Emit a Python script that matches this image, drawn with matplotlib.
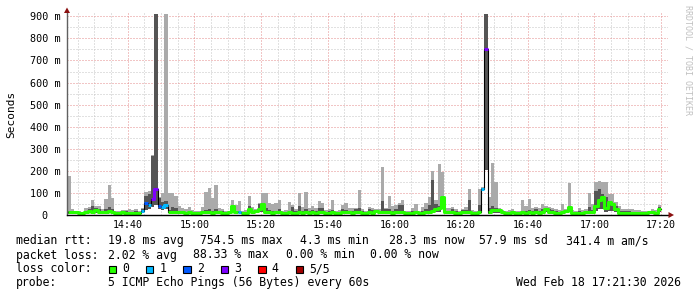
import numpy as np
import matplotlib
matplotlib.use("Agg")
import matplotlib.pyplot as plt
from matplotlib.patches import Rectangle, Polygon

# one sample per minute, first sample starts 14:22 (x = minutes after 14:00)
t0 = 22
# top of the light smoke (slowest ping), ms
hi = [176, 25, 20, 18, 15, 30, 35, 68, 40, 40,
      28, 72, 138, 78, 20, 18, 22, 22, 25, 22,
      25, 18, 30, 105, 110, 270, 910, 80, 100, 910,
      100, 98, 85, 40, 30, 25, 35, 22, 20, 20,
      35, 105, 123, 75, 136, 30, 25, 18, 20, 68,
      47, 62, 20, 22, 84, 35, 25, 55, 100, 100,
      53, 50, 53, 68, 18, 22, 60, 45, 25, 98,
      35, 105, 30, 40, 30, 65, 55, 22, 25, 68,
      20, 22, 45, 55, 33, 30, 30, 113, 25, 20,
      35, 30, 28, 25, 216, 30, 84, 40, 45, 55,
      70, 18, 20, 30, 50, 20, 35, 55, 80, 200,
      70, 233, 196, 30, 30, 35, 25, 20, 28, 35,
      120, 22, 20, 118, 125, 910, 80, 237, 148, 30,
      22, 20, 22, 25, 18, 20, 70, 40, 72, 30,
      35, 30, 50, 42, 35, 30, 25, 22, 50, 28,
      146, 22, 20, 30, 22, 25, 98, 50, 150, 155,
      148, 148, 95, 95, 60, 40, 25, 28, 28, 25,
      22, 22, 20, 18, 20, 25, 22, 45]
# top of the dark (inner) smoke, ms
dk = [20, 18, 14, 14, 12, 20, 25, 40, 30, 25,
      18, 28, 35, 25, 15, 14, 20, 20, 15, 15,
      18, 12, 25, 86, 95, 267, 910, 75, 60, 65,
      22, 35, 30, 20, 18, 15, 18, 15, 14, 14,
      20, 22, 25, 20, 25, 20, 18, 14, 15, 40,
      20, 20, 14, 15, 43, 18, 22, 51, 45, 30,
      22, 18, 20, 25, 14, 15, 18, 35, 18, 40,
      18, 25, 20, 22, 18, 33, 33, 15, 18, 22,
      14, 15, 25, 22, 20, 20, 28, 30, 18, 15,
      25, 22, 20, 18, 65, 25, 25, 20, 25, 45,
      45, 14, 15, 18, 18, 14, 20, 28, 45, 158,
      50, 40, 30, 18, 20, 25, 18, 14, 22, 22,
      68, 15, 14, 45, 122, 910, 30, 40, 30, 22,
      15, 14, 15, 18, 14, 14, 20, 20, 22, 18,
      25, 20, 25, 22, 25, 22, 18, 15, 20, 18,
      40, 15, 14, 18, 15, 18, 35, 22, 110, 120,
      95, 80, 60, 55, 40, 20, 18, 20, 20, 15,
      15, 14, 14, 14, 15, 18, 15, 35]
# bottom of the smoke (fastest ping), ms
lo = [6, 8, 7, 6, 6, 8, 10, 7, 10, 8,
      7, 8, 10, 7, 6, 5, 6, 6, 6, 5,
      6, 5, 12, 22, 25, 35, 45, 25, 22, 25,
      7, 8, 8, 7, 7, 6, 7, 6, 5, 6,
      7, 8, 7, 6, 8, 7, 6, 6, 7, 15,
      7, 8, 6, 6, 12, 8, 10, 12, 15, 8,
      7, 6, 7, 8, 6, 6, 7, 6, 6, 8,
      6, 7, 6, 7, 6, 8, 7, 6, 6, 7,
      6, 6, 7, 8, 7, 6, 7, 8, 6, 6,
      7, 6, 10, 7, 8, 7, 7, 6, 7, 8,
      8, 6, 6, 6, 7, 6, 6, 7, 8, 10,
      12, 15, 25, 7, 7, 8, 6, 6, 7, 7,
      8, 6, 6, 7, 112, 203, 6, 10, 10, 10,
      7, 6, 6, 7, 6, 6, 7, 6, 7, 6,
      7, 6, 7, 12, 7, 7, 6, 6, 7, 10,
      15, 6, 6, 6, 6, 7, 8, 7, 20, 25,
      25, 15, 20, 20, 12, 6, 6, 6, 6, 6,
      6, 6, 6, 6, 7, 7, 6, 12]
# median rtt, ms
med = [12, 15, 12, 10, 10, 14, 18, 12, 22, 15,
       12, 14, 20, 12, 10, 9, 12, 10, 10, 9,
       10, 8, 18, 56, 45, 71, 117, 40, 36, 45,
       12, 14, 15, 12, 12, 10, 12, 10, 9, 10,
       12, 14, 12, 10, 14, 12, 10, 10, 12, 40,
       12, 15, 10, 10, 25, 14, 16, 25, 50, 14,
       12, 11, 12, 14, 10, 11, 12, 10, 11, 14,
       10, 12, 11, 12, 11, 14, 12, 10, 11, 12,
       10, 10, 12, 14, 12, 11, 12, 14, 11, 10,
       12, 11, 18, 12, 14, 12, 12, 11, 12, 14,
       14, 10, 10, 11, 12, 10, 11, 12, 14, 20,
       25, 30, 83, 12, 12, 14, 11, 10, 12, 12,
       14, 10, 10, 12, 119, 750, 12, 22, 22, 22,
       12, 10, 10, 12, 10, 10, 12, 11, 12, 11,
       12, 11, 12, 28, 12, 12, 11, 10, 12, 20,
       38, 10, 10, 11, 10, 12, 14, 12, 40, 68,
       83, 30, 57, 52, 28, 10, 10, 11, 11, 10,
       10, 10, 10, 10, 12, 12, 10, 28]
# lost pings (of 5) per sample
loss = [0] * len(med)
for i, k in [(22, 1), (23, 2), (24, 1), (25, 3), (26, 3), (27, 2),
             (28, 1), (29, 1), (51, 1), (124, 1), (125, 3)]:
    loss[i] = k

loss_labels = ["0", "1", "2", "3", "4", "5/5"]
loss_colors = ["#26ff00", "#00b8ff", "#0059ff", "#7e00ff", "#ff0000", "#a10000"]
tick_pos = [40, 60, 80, 100, 120, 140, 160, 180, 200]
tick_labels = ["14:40", "15:00", "15:20", "15:40", "16:00", "16:20",
               "16:40", "17:00", "17:20"]

W, H = 697, 297
mono = "DejaVu Sans Mono"

fig = plt.figure(figsize=(W / 100, H / 100), dpi=100, facecolor="white")
ax = fig.add_axes([67 / W, 1 - 215 / H, (668 - 67) / W, (215 - 13) / H])
ax.set_xlim(21.8, 202.1)
ax.set_ylim(0, 915)

edges = t0 + np.arange(len(med) + 1)
med_a = np.array(med, float)
loss_a = np.array(loss)

# smoke
ax.stairs(hi, edges, baseline=lo, fill=True, color="#aaaaaa", lw=0, zorder=1)
ax.stairs(dk, edges, baseline=lo, fill=True, color="#555555", lw=0, zorder=1.1)

# median line
ax.plot(edges, np.append(med_a, med_a[-1]), drawstyle="steps-post",
        color="black", lw=0.8, zorder=2)
for k, c in enumerate(loss_colors):
    y = np.where(loss_a == k, med_a, np.nan)
    if np.all(np.isnan(y)):
        continue
    ax.plot(edges, np.append(y, y[-1]), drawstyle="steps-post", color=c,
            lw=2.2, solid_capstyle="butt", zorder=3)

# grid
ax.set_yticks(np.arange(0, 901, 100))
ax.set_yticks(np.arange(50, 900, 100), minor=True)
ax.set_yticklabels(["0  "] + ["%d m" % v for v in range(100, 901, 100)],
                   fontfamily=mono, fontsize=7.3)
ax.set_xticks(tick_pos)
ax.set_xticks(np.arange(25, 201, 5), minor=True)
ax.set_xticklabels(tick_labels, fontfamily=mono, fontsize=7.2)
ax.tick_params(which="both", length=0)
ax.tick_params(axis="y", pad=4.8)
ax.tick_params(axis="x", pad=3.5)
ax.grid(which="major", color="#e58c8c", lw=0.72, ls=(0, (1, 2)), zorder=0)
ax.grid(which="minor", color="#c4c4c4", lw=0.72, ls=(0, (1, 2)), zorder=0)
ax.set_axisbelow(True)

for s in ["top", "right"]:
    ax.spines[s].set_visible(False)
ax.spines["left"].set_color("#606060")
ax.spines["left"].set_linewidth(1.0)
ax.spines["bottom"].set_color("black")
ax.spines["bottom"].set_linewidth(1.0)
ax.spines["left"].set_zorder(5)
ax.spines["bottom"].set_zorder(5)


def px(x, y):
    return (x / W, 1 - y / H)


# axis arrows
fig.add_artist(Polygon([px(64, 13), px(70, 13), px(67, 7.5)], closed=True,
                       transform=fig.transFigure, color="#8b1010", lw=0))
fig.add_artist(Polygon([px(668.5, 212), px(668.5, 218), px(674, 215)], closed=True,
                       transform=fig.transFigure, color="#8b1010", lw=0))

fig.text(*px(11, 114), "Seconds", rotation=90, ha="center", va="center",
         fontfamily=mono, fontsize=8)
fig.text(*px(688, 60), "RRDTOOL / TOBI OETIKER", rotation=270, ha="center",
         va="center", fontfamily=mono, fontsize=6, color="#c0c0c0")

fs = 8.3
row1 = [(16, "median rtt:"), (107.7, "19.8 ms avg"), (200, "754.5 ms max"),
        (300, "4.3 ms min"), (389, "28.3 ms now"), (479, "57.9 ms sd"),
        (566, "341.4 m am/s")]
row2 = [(16, "packet loss:"), (107.7, "2.02 % avg"), (193, "88.33 % max"),
        (286, "0.00 % min"), (370, "0.00 % now")]
for x, s in row1:
    fig.text(*px(x, 240.5), s, ha="left", va="center", fontfamily=mono, fontsize=fs)
for x, s in row2:
    fig.text(*px(x, 255), s, ha="left", va="center", fontfamily=mono, fontsize=fs)

fig.text(*px(16, 269), "loss color:", ha="left", va="center", fontfamily=mono, fontsize=fs)
for k, (lab, c) in enumerate(zip(loss_labels, loss_colors)):
    x0 = 108.5 + 37.4 * k
    fig.add_artist(Rectangle(px(x0, 273), 7.5 / W, 7.5 / H, transform=fig.transFigure,
                             facecolor=c, edgecolor="black", lw=0.8))
    fig.text(*px(x0 + 13.5, 269), lab, ha="left", va="center",
             fontfamily=mono, fontsize=fs)

fig.text(*px(16, 282.5), "probe:", ha="left", va="center", fontfamily=mono, fontsize=fs)
fig.text(*px(107.7, 282.5), "5 ICMP Echo Pings (56 Bytes) every 60s", ha="left",
         va="center", fontfamily=mono, fontsize=fs)
fig.text(*px(681.5, 282.5), "Wed Feb 18 17:21:30 2026", ha="right", va="center",
         fontfamily=mono, fontsize=fs)

fig.savefig("out.png", dpi=100, facecolor="white")
